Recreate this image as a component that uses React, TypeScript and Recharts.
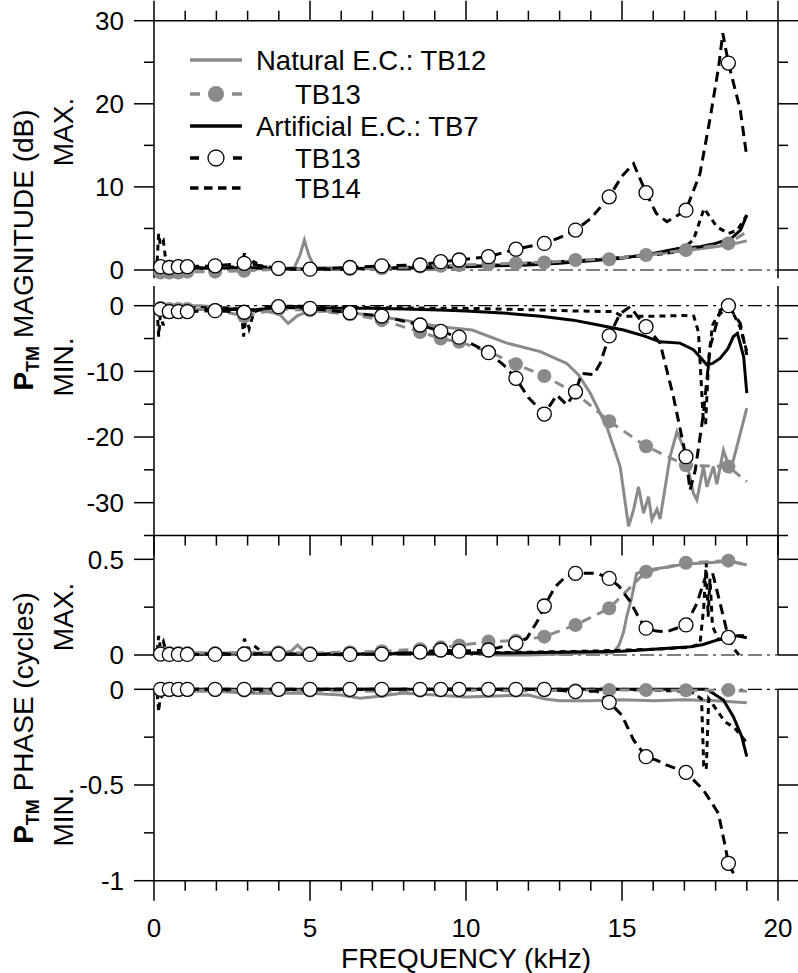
import { ComposedChart, Line, XAxis, YAxis, ReferenceLine } from 'recharts'

type Pair = [number, number]

// ── page / plot geometry ─────────────────────────────────────
const W = 798
const H = 973
const PLOT_LEFT = 154
const PLOT_RIGHT = 778
const FONT = '"Liberation Sans", Arial, Helvetica, sans-serif'
const GRAY = '#8a8a8a'
const AXIS = { stroke: '#000', strokeWidth: 1.5 }

// ── axis ticks ───────────────────────────────────────────────
const X_TICKS = [0, 1, 2, 3, 4, 5, 6, 7, 8, 9, 10, 11, 12, 13, 14, 15, 16, 17, 18, 19, 20]
const X_MAJOR = [0, 5, 10, 15, 20]

const MAG_MAX_TICKS = [0, 5, 10, 15, 20, 25, 30]
const MAG_MAX_MAJOR = [0, 10, 20, 30]
const MAG_MIN_TICKS = [-35, -30, -25, -20, -15, -10, -5, 0]
const MAG_MIN_MAJOR = [-30, -20, -10, 0]
const PH_MAX_TICKS = [0, 0.25, 0.5]
const PH_MAX_MAJOR = [0, 0.5]
const PH_MIN_TICKS = [-1, -0.75, -0.5, -0.25, 0]
const PH_MIN_MAJOR = [-1, -0.5, 0]

// frequencies (kHz) where the TB13 symbols sit
const MARK_F = [0.21, 0.49, 0.78, 1.07, 1.96, 2.89, 3.99, 5.0, 6.28, 7.3, 8.53, 9.19, 9.78, 10.72, 11.6, 12.51, 13.51, 14.59, 15.77, 17.05, 18.41]

// ── MAGNITUDE, MAX. (dB) ─────────────────────────────────────
const magMaxNat12: Pair[] = [[0.1, 0.3], [0.5, 0.2], [1, 0.3], [2, 0.3], [3, 0.2], [4, 0.1], [4.5, 0.3], [4.68, 1.8], [4.82, 3.6], [4.96, 1.8], [5.15, 0.3], [6, 0.2], [7, 0.2], [8, 0.3], [9, 0.4], [10, 0.5], [11, 0.6], [12, 0.8], [13, 1.0], [14, 1.2], [15, 1.5], [16, 1.9], [17, 2.3], [18, 2.8], [18.5, 3.1], [19, 3.5]]
const magMaxNat13 = [-0.3, -0.3, -0.3, -0.2, -0.2, -0.1, 0.1, 0.1, 0.1, 0.2, 0.4, 0.5, 0.6, 0.7, 0.8, 0.9, 1.2, 1.3, 1.8, 2.4, 3.2]
const magMaxNat13End: Pair = [19, 4.6]
const magMaxArt7: Pair[] = [[0.1, 0.3], [1, 0.2], [2, 0.2], [3, 0.3], [4, 0.1], [5, 0.1], [6, 0.1], [7, 0.2], [8, 0.2], [9, 0.3], [10, 0.4], [11, 0.5], [12, 0.6], [13, 0.8], [14, 1.1], [15, 1.4], [16, 2.0], [16.8, 2.6], [17.5, 2.8], [18, 3.2], [18.5, 3.8], [18.8, 4.8], [19, 6.6]]
const magMaxArt13: Pair[] = [[0.1, 0.4], [0.21, 0.4], [0.49, 0.3], [0.78, 0.4], [1.07, 0.4], [1.96, 0.5], [2.89, 0.8], [3.99, 0.2], [5.0, 0.1], [6.28, 0.3], [7.3, 0.5], [8.53, 0.6], [9.19, 1.0], [9.78, 1.2], [10.72, 1.6], [11.6, 2.5], [12.51, 3.2], [13.0, 3.9], [13.51, 4.8], [14.0, 6.2], [14.59, 8.8], [15.0, 11.3], [15.37, 12.8], [15.77, 9.3], [16.1, 6.8], [16.44, 5.8], [17.05, 7.2], [17.5, 11.6], [17.83, 18.4], [18.1, 24.5], [18.23, 28.5], [18.41, 24.9], [18.79, 19.3], [19.0, 13.6]]
const magMaxArt13Marks = [0.4, 0.3, 0.4, 0.4, 0.5, 0.8, 0.2, 0.1, 0.3, 0.5, 0.6, 1.0, 1.2, 1.6, 2.5, 3.2, 4.8, 8.8, 9.3, 7.2, 24.9]
const magMaxArt14: Pair[] = [[0.1, 1], [0.15, 4.4], [0.2, 3.0], [0.3, 3.5], [0.4, 0.5], [0.6, 0.3], [1, 0.3], [2, 0.3], [2.8, 0.4], [2.9, 2.0], [3.0, 0.6], [3.2, 1.0], [3.5, 0.4], [4, 0.2], [5, 0.1], [6, 0.1], [7, 0.2], [8, 0.3], [9, 0.4], [10, 0.5], [11, 0.6], [12, 0.8], [13, 1.0], [14, 1.2], [15, 1.5], [16, 1.8], [16.8, 2.2], [17.29, 3.6], [17.63, 7.4], [18.04, 5.2], [18.41, 4.4], [18.7, 4.8], [19.0, 6.6]]

// ── MAGNITUDE, MIN. (dB) ─────────────────────────────────────
const magMinNat12: Pair[] = [[0.1, -0.3], [0.5, 0], [1, 0], [1.5, 0], [2, -0.2], [2.9, -0.5], [3.5, -0.8], [4.0, -1.2], [4.3, -2.7], [4.6, -1.5], [5.0, -0.8], [6, -0.9], [7, -1.5], [8, -2.2], [9.17, -3.2], [10.2, -3.7], [11.31, -5.7], [12.38, -7.0], [13.23, -8.8], [13.6, -10.5], [13.98, -13.3], [14.51, -18.4], [14.94, -24.5], [15.21, -33.6], [15.37, -31.1], [15.53, -27.6], [15.69, -31.6], [15.85, -29.1], [15.96, -32.6], [16.12, -31], [16.22, -32.5], [16.54, -23], [16.76, -19.2], [16.97, -21.5], [17.29, -28.6], [17.4, -29.6], [17.61, -24.5], [17.72, -27.6], [17.93, -24.5], [18.04, -27.2], [18.25, -22], [18.47, -25], [18.57, -23.5], [18.68, -21.5], [19.0, -15.6]]
const magMinNat13 = [-0.3, -0.5, -0.5, -0.5, -0.6, -1.6, -0.5, -0.7, -1.3, -2.2, -4.0, -5.0, -5.5, -7.0, -8.9, -10.7, -13.3, -17.6, -21.4, -24.3, -24.5]
const magMinNat13End: Pair = [19, -26.8]
const magMinArt7: Pair[] = [[0.1, -0.5], [1, -0.6], [2, -0.5], [2.8, -0.6], [2.9, -1.5], [3.0, -0.7], [4, -0.3], [5, -0.3], [6, -0.4], [7, -0.4], [8, -0.5], [9.17, -0.65], [10, -0.8], [11.31, -1.16], [12.4, -1.6], [13.44, -2.2], [14.2, -2.9], [15.05, -3.7], [15.7, -4.6], [16.22, -5.5], [16.86, -5.7], [17.29, -6.7], [17.5, -7.8], [17.72, -9.0], [17.9, -8.8], [18.15, -8.0], [18.4, -6.5], [18.57, -4.7], [18.7, -4.2], [18.9, -7.8], [19.0, -13.3]]
const magMinArt13: Pair[] = [[0.1, -0.3], [0.21, -0.55], [0.49, -0.9], [0.78, -0.9], [1.07, -0.9], [1.96, -0.76], [2.89, -1.0], [3.99, -0.15], [5.0, -0.4], [6.28, -1.07], [7.3, -1.57], [8.53, -2.94], [9.19, -3.9], [9.78, -4.8], [10.72, -7.15], [11.2, -9], [11.6, -11.06], [12.0, -14], [12.51, -16.5], [12.91, -13.6], [13.23, -15.1], [13.51, -13.1], [13.71, -10.3], [14.09, -10.5], [14.3, -8.8], [14.59, -4.6], [14.94, -1.2], [15.26, -0.15], [15.64, -2.5], [15.77, -3.2], [16.22, -5.7], [16.65, -13.9], [17.05, -23], [17.18, -28.1], [17.35, -25], [17.61, -16.4], [17.83, -6.2], [18.15, -0.65], [18.41, 0], [18.79, -2.7], [19.0, -7.5]]
const magMinArt13Marks = [-0.55, -0.9, -0.9, -0.9, -0.76, -1.0, -0.15, -0.4, -1.07, -1.57, -2.94, -3.9, -4.8, -7.15, -11.06, -16.5, -13.1, -4.6, -3.2, -23.0, 0]
const magMinArt14: Pair[] = [[0.1, -0.5], [0.15, -4.7], [0.2, -1.5], [0.3, -3], [0.4, -0.5], [1, -0.3], [2, -0.3], [2.8, -0.5], [2.87, -4.7], [2.95, -1.5], [3.05, -3.5], [3.2, -1], [3.5, -0.3], [4, -0.1], [5, -0.1], [6, -0.2], [7, -0.3], [8, -0.3], [9, -0.4], [10, -0.4], [11, -0.5], [12.38, -0.65], [13.5, -0.8], [14.73, -0.9], [15, -1.6], [16, -1.6], [17, -1.5], [17.3, -1.6], [17.45, -4], [17.6, -17], [17.68, -18], [17.78, -8], [17.9, -3], [18.04, -1.7], [18.36, -0.3], [18.6, -1.5], [18.79, -3.3], [19.0, -7]]

// ── PHASE, MAX. (cycles) ─────────────────────────────────────
const phMaxNat12: Pair[] = [[0.1, 0.01], [1, 0.01], [2, 0.01], [3, 0.01], [4, 0.01], [4.4, 0.02], [4.6, 0.052], [4.8, 0.02], [5, 0.01], [6, 0.0], [7, 0.005], [8, 0.01], [9, 0.01], [10, 0.01], [11, 0.0], [12, 0.0], [13, 0.005], [14, 0.01], [14.7, 0.01], [14.9, 0.05], [15.05, 0.12], [15.15, 0.2], [15.31, 0.3], [15.47, 0.427], [15.8, 0.445], [16.5, 0.46], [17, 0.475], [17.5, 0.48], [18, 0.485], [18.5, 0.49], [19, 0.47]]
const phMaxNat13 = [0.01, 0.01, 0.01, 0.01, 0.01, 0.01, 0.015, 0.01, 0.015, 0.02, 0.03, 0.04, 0.05, 0.07, 0.075, 0.096, 0.157, 0.244, 0.435, 0.482, 0.493]
const phMaxNat13End: Pair = [19, 0.47]
const phMaxArt7: Pair[] = [[0.1, 0.005], [1, 0.005], [3, 0.005], [5, 0.005], [7, 0.005], [9, 0.008], [11, 0.01], [13, 0.015], [15, 0.02], [16, 0.03], [17.2, 0.043], [17.6, 0.055], [18.04, 0.078], [18.42, 0.094], [18.7, 0.1], [19, 0.09]]
const phMaxArt13: Pair[] = [[0.1, 0.005], [0.21, 0.005], [0.49, 0.003], [0.78, 0.003], [1.07, 0.003], [1.96, 0.003], [2.89, 0.005], [3.99, 0.005], [5.0, 0.003], [6.28, 0.003], [7.3, 0.005], [8.53, 0.015], [9.19, 0.026], [9.78, 0.02], [10.72, 0.026], [11.6, 0.061], [11.95, 0.087], [12.3, 0.18], [12.51, 0.256], [12.86, 0.357], [13.2, 0.41], [13.51, 0.427], [14.19, 0.427], [14.59, 0.4], [14.9, 0.36], [15.26, 0.28], [15.58, 0.183], [15.77, 0.14], [16.1, 0.125], [16.44, 0.122], [17.05, 0.157], [17.4, 0.27], [17.7, 0.42], [17.9, 0.43], [18.1, 0.3], [18.25, 0.2], [18.41, 0.092], [18.6, 0.03], [18.75, 0.0]]
const phMaxArt13Marks = [0.005, 0.003, 0.003, 0.003, 0.003, 0.005, 0.005, 0.003, 0.003, 0.005, 0.015, 0.026, 0.02, 0.026, 0.061, 0.256, 0.427, 0.4, 0.14, 0.157, 0.092]
const phMaxArt14: Pair[] = [[0.1, 0.02], [0.15, 0.1], [0.2, 0.04], [0.3, 0.07], [0.4, 0.01], [1, 0.005], [2, 0.005], [2.8, 0.01], [2.9, 0.085], [3.0, 0.03], [3.2, 0.05], [3.5, 0.01], [4, 0.005], [6, 0.005], [8, 0.01], [10, 0.01], [12, 0.015], [14, 0.02], [16, 0.03], [17.2, 0.04], [17.5, 0.06], [17.62, 0.25], [17.7, 0.48], [17.76, 0.2], [17.82, 0.4], [17.9, 0.15], [18.1, 0.08], [18.4, 0.09], [18.7, 0.1], [19, 0.1]]

// ── PHASE, MIN. (cycles) ─────────────────────────────────────
const phMinNat12: Pair[] = [[0.1, -0.01], [1, -0.01], [2, -0.01], [3, -0.02], [4, -0.02], [5, -0.02], [6, -0.03], [6.6, -0.047], [7, -0.04], [8, -0.02], [9, -0.03], [10, -0.04], [11, -0.035], [12, -0.03], [12.5, -0.05], [13, -0.06], [14, -0.06], [15, -0.055], [16, -0.06], [17, -0.055], [18, -0.06], [19, -0.07]]
const phMinNat13 = [-0.005, -0.005, -0.005, -0.005, -0.005, -0.006, -0.005, -0.006, -0.008, -0.01, -0.008, -0.006, -0.005, -0.006, -0.008, -0.006, -0.005, -0.004, -0.004, -0.005, -0.004]
const phMinNat13End: Pair = [19, -0.01]
const phMinArt7: Pair[] = [[0.1, 0], [2, 0], [5, 0], [8, 0], [11, 0], [14, 0], [17, 0], [17.72, 0], [18.25, -0.056], [18.57, -0.143], [18.84, -0.248], [19.0, -0.352]]
const phMinArt13: Pair[] = [[0.1, 0], [0.21, 0], [0.49, 0], [0.78, 0], [1.07, 0], [1.96, 0], [2.89, 0], [3.99, 0], [5.0, 0], [6.28, 0], [7.3, 0], [8.53, 0], [9.19, 0], [9.78, 0], [10.72, 0], [11.6, 0], [12.51, 0], [13.51, -0.012], [14.2, -0.01], [14.59, -0.068], [14.99, -0.134], [15.37, -0.265], [15.77, -0.352], [16.1, -0.37], [16.44, -0.396], [17.05, -0.434], [17.61, -0.526], [18.09, -0.648], [18.31, -0.822], [18.41, -0.909], [18.57, -0.961]]
const phMinArt13Marks = [0, 0, 0, 0, 0, 0, 0, 0, 0, 0, 0, 0, 0, 0, 0, 0, -0.012, -0.068, -0.352, -0.434, -0.909]
const phMinArt14: Pair[] = [[0.1, -0.02], [0.15, -0.117], [0.2, -0.03], [0.3, -0.05], [0.4, 0], [2, 0], [2.9, -0.01], [5, 0], [10, 0], [15, 0], [17.0, -0.01], [17.3, -0.02], [17.55, -0.05], [17.62, -0.4], [17.7, -0.42], [17.78, -0.05], [18.0, -0.1], [18.3, -0.17], [18.6, -0.2], [18.9, -0.26], [19.0, -0.28]]

// legend
const LEGEND_LABELS = ['Natural E.C.: TB12', 'TB13', 'Artificial E.C.: TB7', 'TB13', 'TB14']

// ── helpers ──────────────────────────────────────────────────

const toPts = (a: Pair[]) => a.map(([f, v]) => ({ f, v }))
const marks = (vals: number[]) => MARK_F.map((f, i) => ({ f, v: vals[i] }))

interface PanelSpec {
  top: number
  bottom: number
  domain: [number, number]
  ticks: number[]
  majors: number[]
  xAxis: 'top' | 'bottom' | 'labels' | 'none'
  nat12: Pair[]
  nat13: number[]
  nat13End: Pair
  art7: Pair[]
  art13: Pair[]
  art13Marks: number[]
  art14: Pair[]
}

const PANELS: PanelSpec[] = [
  { top: 20.7, bottom: 278.3, domain: [-1, 30], ticks: MAG_MAX_TICKS, majors: MAG_MAX_MAJOR, xAxis: 'top',
    nat12: magMaxNat12, nat13: magMaxNat13, nat13End: magMaxNat13End, art7: magMaxArt7, art13: magMaxArt13, art13Marks: magMaxArt13Marks, art14: magMaxArt14 },
  { top: 286.0, bottom: 535.5, domain: [-35, 3], ticks: MAG_MIN_TICKS, majors: MAG_MIN_MAJOR, xAxis: 'bottom',
    nat12: magMinNat12, nat13: magMinNat13, nat13End: magMinNat13End, art7: magMinArt7, art13: magMinArt13, art13Marks: magMinArt13Marks, art14: magMinArt14 },
  { top: 535.4, bottom: 655, domain: [0, 0.625], ticks: PH_MAX_TICKS, majors: PH_MAX_MAJOR, xAxis: 'none',
    nat12: phMaxNat12, nat13: phMaxNat13, nat13End: phMaxNat13End, art7: phMaxArt7, art13: phMaxArt13, art13Marks: phMaxArt13Marks, art14: phMaxArt14 },
  { top: 689.3, bottom: 880.7, domain: [-1, 0], ticks: PH_MIN_TICKS, majors: PH_MIN_MAJOR, xAxis: 'labels',
    nat12: phMinNat12, nat13: phMinNat13, nat13End: phMinNat13End, art7: phMinArt7, art13: phMinArt13, art13Marks: phMinArt13Marks, art14: phMinArt14 },
]

// ── ticks ────────────────────────────────────────────────────

function XTick(props: any) {
  const { x, y, payload, dir, labels } = props
  const v = payload.value as number
  const major = X_MAJOR.includes(v)
  const len = major ? 20 : 10
  return (
    <g>
      <line x1={x} x2={x} y1={y} y2={dir === 'up' ? y - len : y + len} stroke="#000" strokeWidth={1.5} />
      {labels && major && (
        <text x={x} y={y + 56} textAnchor="middle" fontSize={26} fill="#000">{v}</text>
      )}
    </g>
  )
}

function YTick(props: any) {
  const { x, y, payload, side, majors } = props
  const v = payload.value as number
  const major = majors.includes(v)
  const len = major ? 20 : 10
  if (side === 'right') {
    return <line x1={x} x2={x + len} y1={y} y2={y} stroke="#000" strokeWidth={1.5} />
  }
  return (
    <g>
      <line x1={x - len} x2={x} y1={y} y2={y} stroke="#000" strokeWidth={1.5} />
      {major && (
        <text x={x - 30} y={y} dy="0.36em" textAnchor="end" fontSize={26} fill="#000">{v}</text>
      )}
    </g>
  )
}

// ── one stacked panel ────────────────────────────────────────
// axes get a 1px band (a 0px axis is not drawn), margins are trimmed by it

function Panel({ spec }: { spec: PanelSpec }) {
  const up = spec.xAxis === 'top'
  const margin = {
    top: up ? spec.top - 1 : spec.top,
    bottom: up ? H - spec.bottom : H - spec.bottom - 1,
    left: PLOT_LEFT - 1,
    right: W - PLOT_RIGHT - 1,
  }
  const showX = spec.xAxis !== 'none'
  return (
    <div style={{ position: 'absolute', left: 0, top: 0 }}>
      <ComposedChart width={W} height={H} margin={margin}>
        <XAxis
          type="number"
          dataKey="f"
          domain={[0, 20]}
          ticks={X_TICKS}
          interval={0}
          orientation={up ? 'top' : 'bottom'}
          height={1}
          axisLine={showX ? AXIS : false}
          tickLine={false}
          tickSize={0}
          tickMargin={0}
          tick={showX ? (p: any) => <XTick {...p} dir={up ? 'up' : 'down'} labels={spec.xAxis === 'labels'} /> : false}
        />
        <YAxis
          domain={spec.domain}
          ticks={spec.ticks}
          interval={0}
          width={1}
          axisLine={AXIS}
          tickLine={false}
          tickSize={0}
          tickMargin={0}
          tick={(p: any) => <YTick {...p} side="left" majors={spec.majors} />}
        />
        <YAxis
          yAxisId="r"
          orientation="right"
          domain={spec.domain}
          allowDataOverflow
          ticks={spec.ticks}
          interval={0}
          width={1}
          axisLine={AXIS}
          tickLine={false}
          tickSize={0}
          tickMargin={0}
          tick={(p: any) => <YTick {...p} side="right" majors={spec.majors} />}
        />

        {/* zero reference, dash-dot */}
        <ReferenceLine y={0} stroke="#000" strokeWidth={1.2} strokeDasharray="14 5 3 5" />

        <Line data={toPts(spec.nat12)} dataKey="v" stroke={GRAY} strokeWidth={3} dot={false} isAnimationActive={false} />
        <Line data={toPts(spec.art7)} dataKey="v" stroke="#000" strokeWidth={3} dot={false} isAnimationActive={false} />
        <Line data={toPts(spec.art14)} dataKey="v" stroke="#000" strokeWidth={3} strokeDasharray="6 5" dot={false} isAnimationActive={false} />
        <Line data={[...marks(spec.nat13), { f: spec.nat13End[0], v: spec.nat13End[1] }]} dataKey="v" stroke={GRAY} strokeWidth={3} strokeDasharray="10 7" dot={false} isAnimationActive={false} />
        <Line data={toPts(spec.art13)} dataKey="v" stroke="#000" strokeWidth={3} strokeDasharray="10 6" dot={false} isAnimationActive={false} />
        <Line data={marks(spec.nat13)} dataKey="v" stroke="none" dot={{ r: 7, fill: GRAY, stroke: 'none' }} isAnimationActive={false} />
        <Line data={marks(spec.art13Marks)} dataKey="v" stroke="none" dot={{ r: 7, fill: '#fff', stroke: '#000', strokeWidth: 1.3 }} isAnimationActive={false} />
      </ComposedChart>
    </div>
  )
}

// ── legend & titles ──────────────────────────────────────────

function Overlay() {
  const rows = [60, 94, 126, 158, 188]
  const x1 = 190
  const x2 = 242
  const cx = 216
  const textX = [256, 295, 256, 295, 295]
  return (
    <svg width={W} height={H} style={{ position: 'absolute', left: 0, top: 0, pointerEvents: 'none' }}>
      {/* legend samples */}
      <line x1={x1} x2={x2} y1={rows[0]} y2={rows[0]} stroke={GRAY} strokeWidth={3.5} />
      <line x1={x1} x2={x1 + 10} y1={rows[1]} y2={rows[1]} stroke={GRAY} strokeWidth={3.5} />
      <line x1={x2 - 10} x2={x2} y1={rows[1]} y2={rows[1]} stroke={GRAY} strokeWidth={3.5} />
      <circle cx={cx} cy={rows[1]} r={8} fill={GRAY} />
      <line x1={x1} x2={x2} y1={rows[2]} y2={rows[2]} stroke="#000" strokeWidth={3.5} />
      <line x1={x1} x2={x1 + 9} y1={rows[3]} y2={rows[3]} stroke="#000" strokeWidth={3.5} />
      <line x1={x2 - 9} x2={x2} y1={rows[3]} y2={rows[3]} stroke="#000" strokeWidth={3.5} />
      <circle cx={cx} cy={rows[3]} r={8} fill="#fff" stroke="#000" strokeWidth={1.3} />
      <line x1={x1} x2={x2} y1={rows[4]} y2={rows[4]} stroke="#000" strokeWidth={3.5} strokeDasharray="8.5 5.5" />
      {LEGEND_LABELS.map((t, i) => (
        <text key={i} x={textX[i]} y={rows[i]} dy="0.35em" fontSize={27.5} fill="#000">{t}</text>
      ))}

      {/* y titles */}
      <text transform="translate(33,250) rotate(-90)" textAnchor="middle" fontSize={28} fill="#000">
        <tspan fontWeight="bold">P</tspan>
        <tspan fontWeight="bold" fontSize={18} dy={6}>TM</tspan>
        <tspan dy={-6}> MAGNITUDE (dB)</tspan>
      </text>
      <text transform="translate(33,718) rotate(-90)" textAnchor="middle" fontSize={28} fill="#000">
        <tspan fontWeight="bold">P</tspan>
        <tspan fontWeight="bold" fontSize={18} dy={6}>TM</tspan>
        <tspan dy={-6}> PHASE (cycles)</tspan>
      </text>
      <text transform="translate(73,132) rotate(-90)" textAnchor="middle" fontSize={28} fill="#000">MAX.</text>
      <text transform="translate(73,367) rotate(-90)" textAnchor="middle" fontSize={28} fill="#000">MIN.</text>
      <text transform="translate(73,617) rotate(-90)" textAnchor="middle" fontSize={28} fill="#000">MAX.</text>
      <text transform="translate(73,817) rotate(-90)" textAnchor="middle" fontSize={28} fill="#000">MIN.</text>

      {/* x title */}
      <text x={466} y={968} textAnchor="middle" fontSize={28} fill="#000">FREQUENCY (kHz)</text>
    </svg>
  )
}

export default function App() {
  return (
    <div style={{ position: 'relative', width: W, height: H, fontFamily: FONT, background: '#fff' }}>
      <style>{'body{margin:0}'}</style>
      {PANELS.map((p, i) => (
        <Panel key={i} spec={p} />
      ))}
      <Overlay />
    </div>
  )
}
